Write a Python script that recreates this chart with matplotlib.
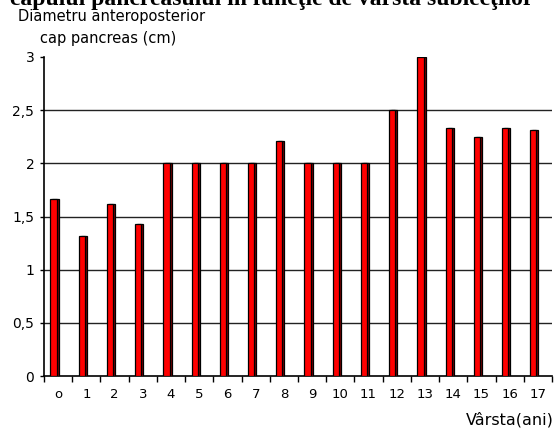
import matplotlib
matplotlib.use("Agg")
import matplotlib.pyplot as plt
import numpy as np

categories = ["o", "1", "2", "3", "4", "5", "6", "7", "8", "9", "10", "11", "12", "13", "14", "15", "16", "17"]
values = [1.66, 1.32, 1.62, 1.43, 2.0, 2.0, 2.0, 2.0, 2.21, 2.0, 2.0, 2.0, 2.5, 3.0, 2.33, 2.25, 2.33, 2.31]
yticks = [0, 0.5, 1, 1.5, 2, 2.5, 3]
ytick_labels = ["0", "0,5", "1", "1,5", "2", "2,5", "3"]
title = "capului pancreasului în funcţie de vârsta subiecţilor"
ylabel1 = "Diametru anteroposterior"
ylabel2 = "cap pancreas (cm)"
xlabel = "Vârsta(ani)"

W, H = 556, 430
fig = plt.figure(figsize=(W / 100, H / 100), dpi=100)
fig.patch.set_facecolor("white")
ax = fig.add_axes([44 / W, 1 - 376 / H, (552 - 44) / W, (376 - 57) / H])

x = np.arange(len(categories))
off = -0.16
bw = 0.22
# 3D side/shadow
ax.bar(x + off + 0.07, values, width=bw, color="#7a0000", edgecolor="black", linewidth=0.9, zorder=3)
ax.bar(x + off, values, width=bw, color="#ff0000", edgecolor="black", linewidth=0.9, zorder=4)

ax.set_xlim(-0.5, len(categories) - 0.5)
ax.set_ylim(0, 3)

for v in yticks[1:-1]:
    ax.axhline(v, color="#222222", linewidth=1.0, zorder=1)

ax.set_yticks(yticks)
ax.set_yticklabels(ytick_labels, fontfamily="DejaVu Sans", fontsize=10)
ax.tick_params(axis="y", direction="out", length=3, width=1, pad=4)

ax.set_xticks(x)
ax.set_xticklabels(categories, fontfamily="DejaVu Sans", fontsize=9.5)
ax.set_xticks(np.arange(-0.5, len(categories), 1), minor=True)
ax.tick_params(axis="x", which="major", length=0, pad=9)
ax.tick_params(axis="x", which="minor", direction="out", length=4, width=1)

for s in ["top", "right"]:
    ax.spines[s].set_visible(False)
for s in ["left", "bottom"]:
    ax.spines[s].set_color("black")
    ax.spines[s].set_linewidth(1.2)

fig.text(10 / W, 1 - 5 / H, title, fontfamily="Liberation Serif", fontweight="bold",
         fontsize=17, ha="left", va="baseline")
fig.text(18 / W, 1 - 17 / H, ylabel1, fontfamily="DejaVu Sans", fontsize=10.5, ha="left", va="center")
fig.text(40 / W, 1 - 39 / H, ylabel2, fontfamily="DejaVu Sans", fontsize=10.5, ha="left", va="center")
fig.text(554 / W, 1 - 420 / H, xlabel, fontfamily="DejaVu Sans", fontsize=11.5, ha="right", va="center")

fig.savefig("out.png", dpi=100, facecolor="white")
